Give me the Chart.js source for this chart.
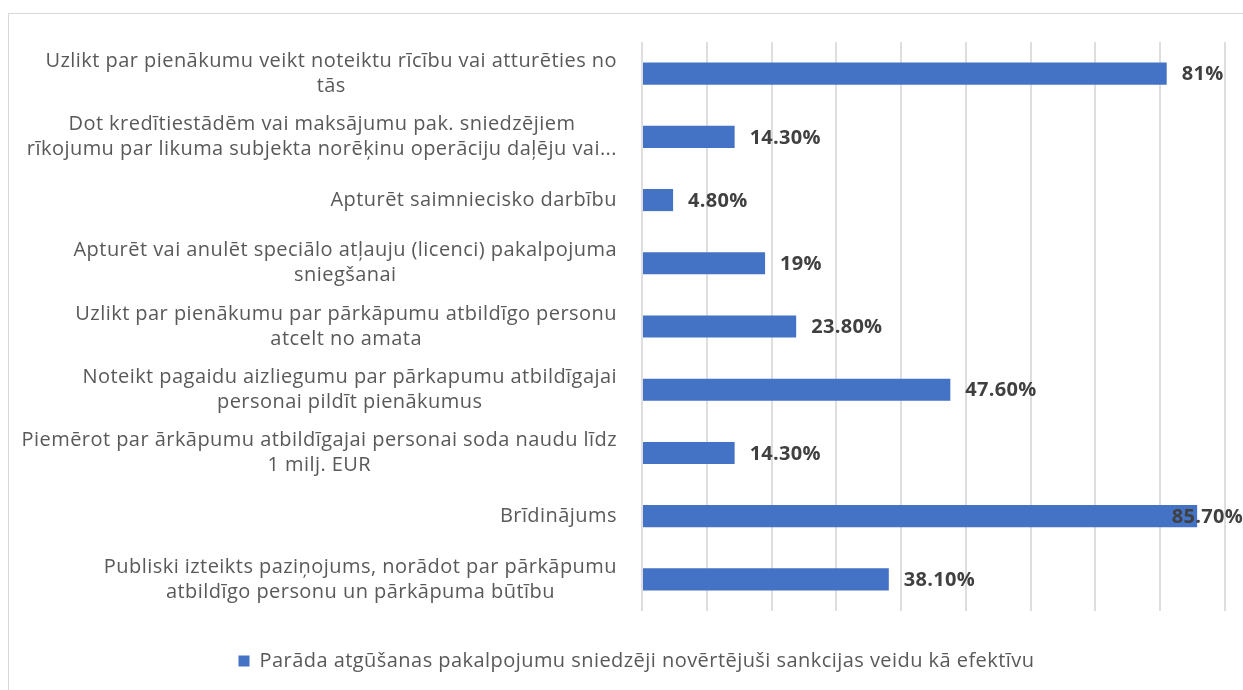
<!DOCTYPE html>
<html lang="lv">
<head>
    <meta charset="UTF-8">
    <title>Sankciju veidi</title>
    <style>
        body {
            margin: 0;
            padding: 0;
            background: #fff;
            overflow: hidden;
            width: 1243px;
            height: 690px;
            position: relative;
        }

        .frame {
            position: absolute;
            left: 8px;
            top: 13px;
            width: 1300px;
            height: 700px;
            border: 1px solid #d9d9d9;
        }

        #chart {
            position: absolute;
            left: 0;
            top: 0;
        }
    </style>
    <script src="https://cdn.jsdelivr.net/npm/chart.js"></script>
</head>
<body>
    <div class="frame"></div>
    <canvas id="chart" width="1273" height="690"></canvas>

<script>
    // categories (top to bottom), each split into its display lines
    var categories = [
        ['Uzlikt par pienākumu veikt noteiktu rīcību vai atturēties no', 'tās'],
        ['Dot kredītiestādēm vai maksājumu pak. sniedzējiem', 'rīkojumu par likuma subjekta norēķinu operāciju daļēju vai...'],
        ['Apturēt saimniecisko darbību'],
        ['Apturēt vai anulēt speciālo atļauju (licenci) pakalpojuma', 'sniegšanai'],
        ['Uzlikt par pienākumu par pārkāpumu atbildīgo personu', 'atcelt no amata'],
        ['Noteikt pagaidu aizliegumu par pārkapumu atbildīgajai', 'personai pildīt pienākumus'],
        ['Piemērot par ārkāpumu atbildīgajai personai soda naudu līdz', '1 milj. EUR'],
        ['Brīdinājums'],
        ['Publiski izteikts paziņojums, norādot par pārkāpumu', 'atbildīgo personu un pārkāpuma būtību']
    ];
    var values = [81, 14.3, 4.8, 19, 23.8, 47.6, 14.3, 85.7, 38.1];
    var valueLabels = ['81%', '14.30%', '4.80%', '19%', '23.80%', '47.60%', '14.30%', '85.70%', '38.10%'];
    var seriesName = 'Parāda atgūšanas pakalpojumu sniedzēji novērtējuši sankcijas veidu kā efektīvu';

    var FONT = '"Open Sans", "Noto Sans", sans-serif';

    // Calibri-ish width: a touch of letter spacing on everything (legend too)
    var spacing = {
        id: 'spacing',
        beforeLayout: function(chart) { chart.ctx.letterSpacing = '0.45px'; },
        beforeDraw: function(chart) { chart.ctx.letterSpacing = '0.45px'; }
    };

    // category labels: lines centred among themselves, block right-aligned
    var categoryLabels = {
        id: 'categoryLabels',
        afterDraw: function(chart) {
            var ctx = chart.ctx;
            var yScale = chart.scales.y;
            var right = chart.chartArea.left - 25;
            var lh = 25;
            ctx.save();
            ctx.font = '20px ' + FONT;
            ctx.letterSpacing = '0.45px';
            ctx.fillStyle = '#595959';
            ctx.textAlign = 'center';
            ctx.textBaseline = 'middle';
            categories.forEach(function(lines, i) {
                var cy = yScale.getPixelForValue(i);
                var maxW = 0;
                lines.forEach(function(l) { maxW = Math.max(maxW, ctx.measureText(l).width); });
                var cx = right - maxW / 2;
                lines.forEach(function(l, j) {
                    ctx.fillText(l, cx, cy + (j - (lines.length - 1) / 2) * lh);
                });
            });
            ctx.restore();
        }
    };

    // value labels after the bar end, pulled back if they would leave the frame
    var valueLabelPlugin = {
        id: 'valueLabels',
        afterDatasetsDraw: function(chart) {
            var ctx = chart.ctx;
            var meta = chart.getDatasetMeta(0);
            var limit = 1243;
            ctx.save();
            ctx.font = 'bold 20px ' + FONT;
            ctx.letterSpacing = '0.3px';
            ctx.fillStyle = '#404040';
            ctx.textAlign = 'left';
            ctx.textBaseline = 'middle';
            meta.data.forEach(function(bar, i) {
                var w = ctx.measureText(valueLabels[i]).width;
                var x = bar.x + 15;
                if (x + w > limit) x = limit - w;
                ctx.fillText(valueLabels[i], x, bar.y + 1);
            });
            ctx.restore();
        }
    };

    var ctx = document.getElementById('chart').getContext('2d');
    var myChart = new Chart(ctx, {
        type: 'bar',
        data: {
            labels: categories,
            datasets: [{
                label: seriesName,
                data: values,
                backgroundColor: '#4472C4',
                barPercentage: 0.35,
                categoryPercentage: 1
            }]
        },
        options: {
            indexAxis: 'y',
            responsive: false,
            animation: false,
            layout: {
                padding: { top: 42, right: 48, left: 48, bottom: 9 }
            },
            scales: {
                x: {
                    min: 0,
                    max: 90,
                    ticks: { display: false, stepSize: 10 },
                    grid: { color: '#dedede', lineWidth: 2, drawTicks: false },
                    border: { display: false },
                    afterFit: function(s) { s.height = 30; }
                },
                y: {
                    ticks: { display: false },
                    grid: { display: false },
                    border: { display: false },
                    afterFit: function(s) { s.width = 594; }
                }
            },
            plugins: {
                legend: {
                    position: 'bottom',
                    labels: {
                        boxWidth: 11,
                        boxHeight: 11,
                        padding: 10,
                        color: '#595959',
                        font: { family: FONT, size: 20 }
                    }
                },
                tooltip: { enabled: false }
            }
        },
        plugins: [spacing, categoryLabels, valueLabelPlugin]
    });
</script>
</body>
</html>
